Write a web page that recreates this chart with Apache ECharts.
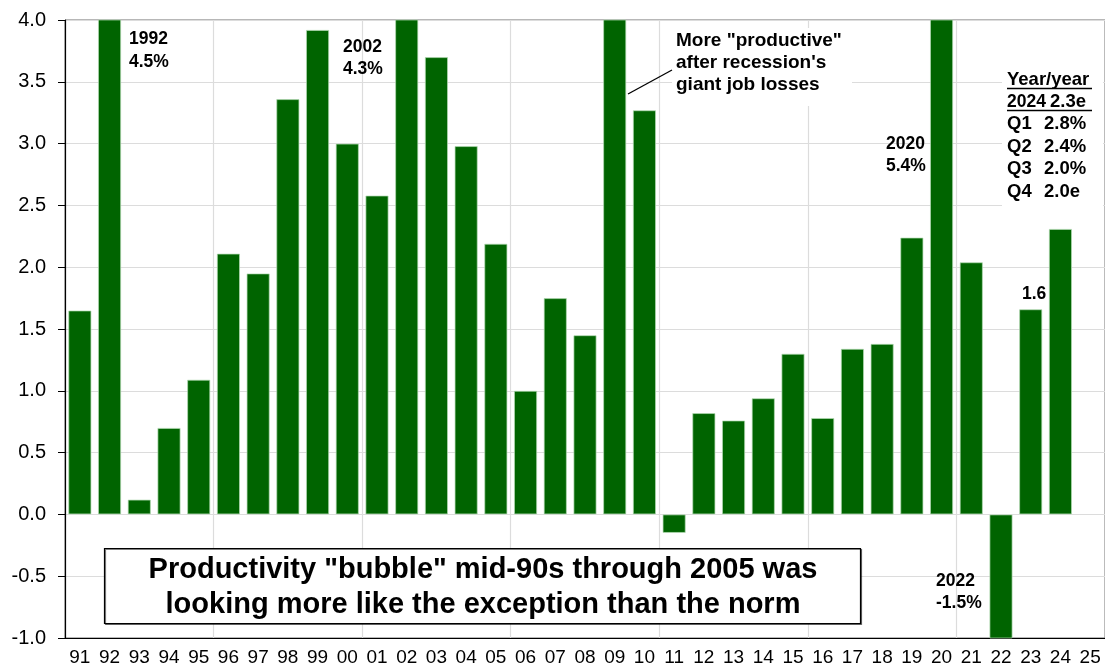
<!DOCTYPE html>
<html>
<head>
<meta charset="utf-8">
<script src="https://cdn.jsdelivr.net/npm/echarts@6/dist/echarts.min.js"></script>
<style>
  html, body { margin: 0; padding: 0; background: #fff; }
  #chart { width: 1105px; height: 667px; }
</style>
</head>
<body>
<div id="chart"></div>
<script>
// ---- data ----
const years = ['91','92','93','94','95','96','97','98','99','00','01','02','03','04','05','06','07','08','09','10',
               '11','12','13','14','15','16','17','18','19','20','21','22','23','24','25'];
const productivity = [1.65, 4.5, 0.12, 0.70, 1.09, 2.11, 1.95, 3.36, 3.92, 3.00, 2.58, 4.3, 3.70, 2.98, 2.19,
                      1.00, 1.75, 1.45, 4.2, 3.27, -0.15, 0.82, 0.76, 0.94, 1.30, 0.78, 1.34, 1.38, 2.24, 5.4,
                      2.04, -1.5, 1.66, 2.31, null];
const yTicks = { min: -1.0, max: 4.0, interval: 0.5 };
const boxTitle = ['Productivity "bubble" mid-90s through 2005 was', 'looking more like the exception than the norm'];
const recessionNote = ['More "productive"', "after recession's", 'giant job losses'];
const yoyHeader = ['Year/year', '2024'];
const yoyHeaderVal = '2.3e';
const yoyQuarters = ['Q1', 'Q2', 'Q3', 'Q4'];
const yoyValues = ['2.8%', '2.4%', '2.0%', '2.0e'];

const FONT = '"Liberation Sans", Arial, Helvetica, sans-serif';
const chart = echarts.init(document.getElementById('chart'), null, { renderer: 'canvas' });

function txt(x, y, text, size, opts) {
  return {
    type: 'text', x: x, y: y, z: 100,
    style: Object.assign({ text: text, font: 'bold ' + size + 'px ' + FONT, fill: '#000',
      textVerticalAlign: 'middle', textAlign: 'left' }, (opts || {}))
  };
}

const graphics = [];
// recession note white background + text + leader line
graphics.push({ type: 'rect', shape: { x: 672, y: 28, width: 180, height: 78 }, style: { fill: '#fff' }, z: 50 });
recessionNote.forEach((t, i) => graphics.push(txt(676, 41 + i * 22, t, 19)));
graphics.push({ type: 'line', shape: { x1: 628, y1: 94, x2: 672, y2: 70 }, style: { stroke: '#000', lineWidth: 1.3 }, z: 100 });
// year labels
graphics.push(txt(129, 39, '1992', 17.5));
graphics.push(txt(129, 62, '4.5%', 17.5));
graphics.push(txt(343, 47, '2002', 17.5));
graphics.push(txt(343, 69, '4.3%', 17.5));
graphics.push(txt(886, 144, '2020', 17.5));
graphics.push(txt(886, 166, '5.4%', 17.5));
graphics.push(txt(936, 581, '2022', 17.5));
graphics.push(txt(936, 603, '-1.5%', 17.5));
graphics.push(txt(1022, 294, '1.6', 17.5));
// year/year box
graphics.push({ type: 'rect', shape: { x: 1002, y: 66, width: 101, height: 142 }, style: { fill: '#fff' }, z: 50 });
graphics.push(txt(1007, 80, yoyHeader[0], 18.5));
graphics.push(txt(1007, 102, yoyHeader[1], 17.5));
graphics.push(txt(1050, 102, yoyHeaderVal, 18.5));
graphics.push({ type: 'line', shape: { x1: 1007, y1: 88.5, x2: 1092, y2: 88.5 }, style: { stroke: '#000', lineWidth: 1.5 }, z: 100 });
graphics.push({ type: 'line', shape: { x1: 1007, y1: 110.5, x2: 1092, y2: 110.5 }, style: { stroke: '#000', lineWidth: 1.5 }, z: 100 });
yoyQuarters.forEach((q, i) => {
  graphics.push(txt(1007, 124 + i * 22.6, q, 18.5));
  graphics.push(txt(1044, 124 + i * 22.6, yoyValues[i], 18.5));
});
// bottom box
graphics.push({ type: 'rect', shape: { x: 104.5, y: 548.5, width: 756, height: 75 },
  style: { fill: '#fff', stroke: '#000', lineWidth: 1.2, shadowColor: 'rgba(0,0,0,0.5)', shadowOffsetX: 1, shadowOffsetY: 1 }, z: 60 });
graphics.push(txt(483, 570, boxTitle[0], 29, { textAlign: 'center' }));
graphics.push(txt(483, 605, boxTitle[1], 29, { textAlign: 'center' }));

const option = {
  animation: false,
  backgroundColor: '#fff',
  grid: { left: 65, top: 20, width: 1043, bottom: 28, show: true, borderColor: '#6e6e6e', borderWidth: 1, backgroundColor: 'transparent', containLabel: false },
  xAxis: {
    type: 'category',
    data: years,
    axisLine: { onZero: false, lineStyle: { color: '#000', width: 1.2 } },
    axisTick: { show: false },
    axisLabel: { color: '#000', fontSize: 19, fontFamily: FONT, margin: 10, interval: 0 },
    splitLine: { show: true, interval: function (i) { return i > 0 && i % 5 === 0; }, lineStyle: { color: '#dcdcdc', width: 1.2 } }
  },
  yAxis: {
    type: 'value',
    min: yTicks.min, max: yTicks.max, interval: yTicks.interval,
    axisLine: { show: true, lineStyle: { color: '#000', width: 1.2 } },
    axisTick: { show: true, length: 7, lineStyle: { color: '#000' } },
    axisLabel: { color: '#000', fontSize: 20, fontFamily: FONT, margin: 19, formatter: v => v.toFixed(1) },
    splitLine: { show: true, lineStyle: { color: '#dcdcdc', width: 1.2 } }
  },
  series: [{
    type: 'bar',
    data: productivity,
    barCategoryGap: '22%',
    clip: true,
    itemStyle: { color: '#006400', borderColor: 'rgba(180,220,180,0.7)', borderWidth: 1 }
  }],
  graphic: graphics
};
chart.setOption(option);
</script>
</body>
</html>
